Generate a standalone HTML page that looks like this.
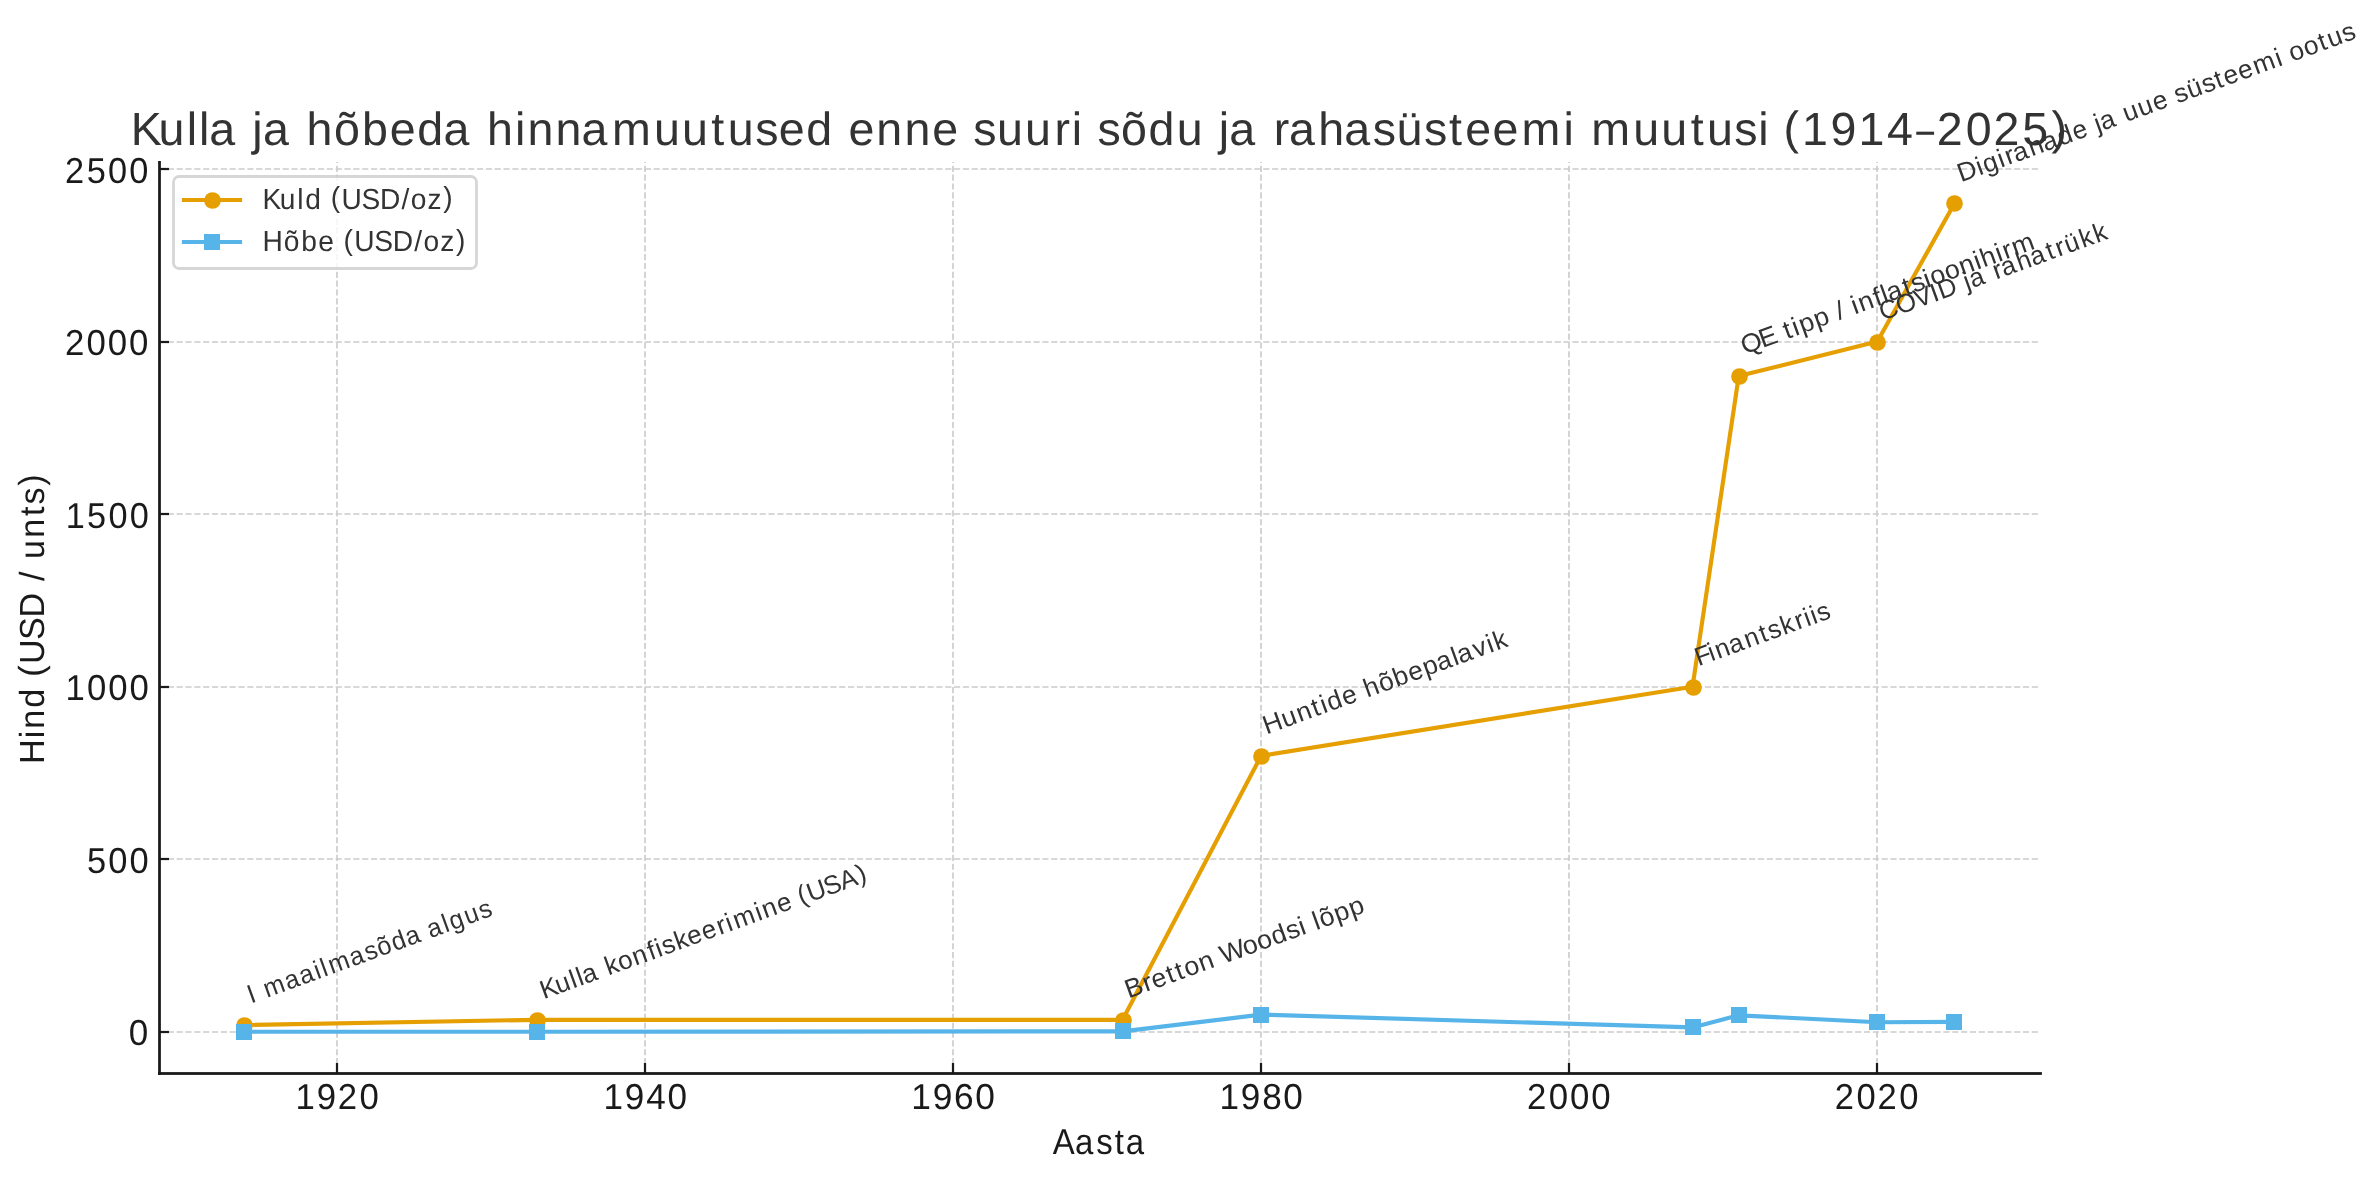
<!DOCTYPE html>
<html lang="et">
<head>
<meta charset="utf-8">
<title>Kulla ja hõbeda hinnamuutused</title>
<style>
html,body{margin:0;padding:0;background:#fff}
svg{display:block;will-change:transform}
text{font-family:"Liberation Sans",sans-serif;font-kerning:none;white-space:pre;text-rendering:geometricPrecision}
.g{stroke:#ccc;stroke-width:1.667;stroke-dasharray:6.167 2.667;fill:none}
.k{stroke:#1a1a1a;stroke-width:2.222;fill:none}
.s{stroke:#1a1a1a;stroke-width:2.778;fill:none;stroke-linecap:square}
.au{stroke:#e69f00;stroke-width:4.167;fill:none;stroke-linejoin:round;stroke-linecap:square}
.ag{stroke:#56b4e9;stroke-width:4.167;fill:none;stroke-linejoin:round;stroke-linecap:square}
.t3{fill:#333}
.t1{fill:#1a1a1a}
</style>
</head>
<body>
<svg id="chart" width="2379" height="1180" viewBox="0 0 2379 1180">
<rect id="bg" width="2379" height="1180" fill="#fff"/>
<g id="grid">
<path class="g" d="M337 1073V162.1"/>
<path class="g" d="M645 1073V162.1"/>
<path class="g" d="M953 1073V162.1"/>
<path class="g" d="M1261 1073V162.1"/>
<path class="g" d="M1569 1073V162.1"/>
<path class="g" d="M1877 1073V162.1"/>
<path class="g" d="M158.96 169H2039.9"/>
<path class="g" d="M158.96 342H2039.9"/>
<path class="g" d="M158.96 514H2039.9"/>
<path class="g" d="M158.96 687H2039.9"/>
<path class="g" d="M158.96 859H2039.9"/>
<path class="g" d="M158.96 1032H2039.9"/>
</g>
<g id="ticks">
<path class="k" d="M337 1073.5V1063"/>
<path class="k" d="M645 1073.5V1063"/>
<path class="k" d="M953 1073.5V1063"/>
<path class="k" d="M1261 1073.5V1063"/>
<path class="k" d="M1569 1073.5V1063"/>
<path class="k" d="M1877 1073.5V1063"/>
<path class="k" d="M159.5 169H169"/>
<path class="k" d="M159.5 342H169"/>
<path class="k" d="M159.5 514H169"/>
<path class="k" d="M159.5 687H169"/>
<path class="k" d="M159.5 859H169"/>
<path class="k" d="M159.5 1032H169"/>
</g>
<g id="series">
<path class="au" d="M244.46 1024.99 L537.15 1019.81 L1122.54 1019.81 L1261.18 755.75 L1692.52 686.72 L1738.74 376.06 L1877.38 341.55 L1954.41 203.48"/>
<circle cx="244.5" cy="1025.5" r="8.333" fill="#e69f00"/>
<circle cx="537.5" cy="1020.5" r="8.333" fill="#e69f00"/>
<circle cx="1123.5" cy="1020.5" r="8.333" fill="#e69f00"/>
<circle cx="1261.5" cy="756.5" r="8.333" fill="#e69f00"/>
<circle cx="1693.5" cy="687.5" r="8.333" fill="#e69f00"/>
<circle cx="1739.5" cy="376.5" r="8.333" fill="#e69f00"/>
<circle cx="1877.5" cy="342.5" r="8.333" fill="#e69f00"/>
<circle cx="1954.5" cy="203.5" r="8.333" fill="#e69f00"/>
<path class="ag" d="M244.46 1031.72 L537.15 1031.75 L1122.54 1031.37 L1261.18 1014.63 L1692.52 1027.4 L1738.74 1015.32 L1877.38 1022.23 L1954.41 1021.88"/>
<rect x="236" y="1024" width="16" height="16" fill="#56b4e9"/>
<rect x="529" y="1024" width="16" height="16" fill="#56b4e9"/>
<rect x="1115" y="1023" width="16" height="16" fill="#56b4e9"/>
<rect x="1253" y="1007" width="16" height="16" fill="#56b4e9"/>
<rect x="1685" y="1019" width="16" height="16" fill="#56b4e9"/>
<rect x="1731" y="1007" width="16" height="16" fill="#56b4e9"/>
<rect x="1869" y="1014" width="16" height="16" fill="#56b4e9"/>
<rect x="1946" y="1014" width="16" height="16" fill="#56b4e9"/>
</g>
<g id="spines">
<path class="s" d="M159.5 162.5V1073.5"/>
<rect x="158.111" y="1072.111" width="1883.778" height="2.778" fill="#1a1a1a"/>
</g>
<g id="annotations">
<text id="ann0" class="t3" font-size="26.12" transform="translate(250.95 1003.07) rotate(-20) scale(0.9644 1)" x="0 7.5 17.6 40.8 56.6 73.4 80.7 89 112.2 128.7 142.5 158.5 173.9 190 198 214.8 222.2 238.7 254.7" y="0.42">I maailmasõda algus</text>
<text id="ann1" class="t3" font-size="26.12" transform="translate(543.65 999.3) rotate(-20) scale(0.9965 1)" x="0.1 15.9 31.7 38.8 44.6 60.5 69.4 82.6 98.2 114.6 123 129.6 143.4 156.7 172.1 188.3 198.1 205.9 229.6 236.7 252.4 267.3 275.2 284.9 302.9 319.8 338.3" y="-0.1 -0.1 -0.1 -0.1 -0.1 -0.1 -0.1 -0.1 -0.1 -0.1 -0.1 -0.1 -0.1 -0.1 -0.1 -0.1 -0.1 -0.1 -0.1 -0.1 -0.1 -0.1 -1.2 -0.1 -0.1 -0.1 -1.2">Kulla konfiskeerimine (USA)</text>
<text id="ann2" class="t3" font-size="26.12" transform="translate(1129.04 997.89) rotate(-20) scale(1.0263 1)" x="-0.7 17.5 26.3 42 51.5 60.2 75.4 90.3 97.8 120.9 135.8 150.8 166 179.3 185.6 193.9 200.4 215.7 231.1" y="0.34">Bretton Woodsi lõpp</text>
<text id="ann3" class="t3" font-size="26.12" transform="translate(1267.68 733.83) rotate(-20) scale(1.0109 1)" x="-1.4 17.9 33.7 49.9 59 65.8 81.4 96.3 104.8 120.2 135.7 151.1 166.6 181 197.2 203 219.5 233.9 241" y="0.11">Huntide hõbepalavik</text>
<text id="ann4" class="t3" font-size="26.12" transform="translate(1699.02 669.5) rotate(-20) scale(0.9881 1)" x="0.6 14.7 22 36.7 53.5 69.9 78.9 92.8 107.9 117.7 124.8 131.5" y="-3.39">Finantskriis</text>
<text id="ann5" class="t3" font-size="26.12" transform="translate(1745.24 354.14) rotate(-20) scale(1.0289 1)" x="-0.9 17.7 34.2 43 52 58.8 74.3 89.1 97.3 105 113.3 120.1 136 144.1 149.7 166.3 174.8 188 194.5 209.3 224.5 239.9 246.6 262.1 269.5 279" y="0.11">QE tipp / inflatsioonihirm</text>
<text id="ann6" class="t3" font-size="26.12" transform="translate(1883.88 319.63) rotate(-20) scale(0.9915 1)" x="-1.5 16.5 36 53.5 61.3 80.5 88.9 95.1 111 120.3 129 145.6 160.4 177.5 187.4 197.2 213.5 228.2" y="0.69">COVID ja rahatrükk</text>
<text id="ann7" class="t3" font-size="26.12" transform="translate(1960.9 181.56) rotate(-20) scale(1.0117 1)" x="-0.2 19.3 26.1 41.9 49.5 57.9 74.2 88.7 104.8 120.4 135.3 143.6 149.5 165.2 173.6 189.3 204.8 219.7 227.7 241 256.4 270.3 279.2 294.4 310.5 333.9 340.3 348.4 363.5 379.4 388.5 403.8" y="0.66">Digirahade ja uue süsteemi ootus</text>
</g>
<g id="legend">
<rect id="legbox" x="173.5" y="176.5" width="303" height="92" rx="5.556" fill="#fff" fill-opacity="0.8" stroke="#ccc" stroke-opacity="0.8" stroke-width="2.778"/>
<path id="lh0" d="M181.9 200H242.1" stroke="#e69f00" stroke-width="4.167"/>
<circle id="lm0" cx="212.5" cy="200.5" r="8.333" fill="#e69f00"/>
<path id="lh1" d="M181.9 242H242.1" stroke="#56b4e9" stroke-width="4.167"/>
<rect id="lm1" x="204" y="234" width="16" height="16" fill="#56b4e9"/>
<text id="leg0" class="t3" font-size="29.03" transform="translate(261.74 211.56) scale(0.969 1)" x="0.8 18.7 36.7 44.8 62.1 71.3 82.4 102.9 122.1 144.3 153.8 171.1 187.3" y="-3 -3 -3 -3 -3 -4.2 -3 -3 -3 -3 -3 -3 -4.2">Kuld (USD/oz)</text>
<text id="leg1" class="t3" font-size="29.03" transform="translate(261.74 253.45) scale(0.9709 1)" x="0.9 22.7 40.7 58.3 75.1 84.3 95.3 115.8 135 157.2 166.6 183.9 200" y="-2 -2 -2 -2 -2 -3.2 -2 -2 -2 -2 -2 -2 -3.2">Hõbe (USD/oz)</text>
</g>
<g id="labels">
<text id="xt1920" class="t1" font-size="36.03" transform="translate(294.32 1115.89) scale(0.9649 1)" x="1.2 23.3 45.1 67.6" y="-7">1920</text>
<text id="xt1940" class="t1" font-size="36.03" transform="translate(602.48 1115.89) scale(0.9733 1)" x="1 22.9 44.9 66.7" y="-7">1940</text>
<text id="xt1960" class="t1" font-size="36.03" transform="translate(910.58 1115.89) scale(0.9808 1)" x="0.8 22.6 44.4 66" y="-7">1960</text>
<text id="xt1980" class="t1" font-size="36.03" transform="translate(1218.75 1115.89) scale(0.9747 1)" x="0.8 22.7 44.6 66.3" y="-7">1980</text>
<text id="xt2000" class="t1" font-size="36.03" transform="translate(1526.72 1115.89) scale(0.9658 1)" x="0.2 22.7 44.7 66.7" y="-7">2000</text>
<text id="xt2020" class="t1" font-size="36.03" transform="translate(1834.76 1115.89) scale(0.9588 1)" x="0.1 22.8 44.6 67.3" y="-7">2020</text>
<text id="yt0" class="t1" font-size="36.03" transform="translate(127.99 1051.89) scale(0.9726 1)" x="0.8" y="-7">0</text>
<text id="yt500" class="t1" font-size="36.03" transform="translate(85.49 879.31) scale(0.9558 1)" x="1.5 23.8 46" y="-6">500</text>
<text id="yt1000" class="t1" font-size="36.03" transform="translate(64.24 706.72) scale(0.9636 1)" x="1.4 23.7 45.7 67.8" y="-7">1000</text>
<text id="yt1500" class="t1" font-size="36.03" transform="translate(64.24 534.13) scale(0.9507 1)" x="1.5 24 46.5 68.8" y="-6">1500</text>
<text id="yt2000" class="t1" font-size="36.03" transform="translate(64.11 361.55) scale(0.9658 1)" x="0.8 23.3 45.3 67.3" y="-7">2000</text>
<text id="yt2500" class="t1" font-size="36.03" transform="translate(64.11 188.96) scale(0.9531 1)" x="0.9 23.7 46.1 68.4" y="-6">2500</text>
<text id="xlabel" class="t1" font-size="35.96" transform="translate(1052.43 1160) scale(0.9157 1)" x="0.4 24.7 47.9 68.2 80.2" y="-6">Aasta</text>
<text id="ylabel" class="t1" font-size="34.83" transform="translate(49 762.49) rotate(-90) scale(0.9803 1)" x="-1.5 24.7 34.4 55.8 76.5 87.4 100.5 124.9 147.8 173.5 185.2 195.8 207.7 229.3 251.4 263.3 282.4" y="-5 -5 -5 -5 -5 -6.4 -5 -5 -5 -5 -5 -5 -5 -5 -5 -5 -6.4">Hind (USD / unts)</text>
<text id="title" class="t3" font-size="46.44" transform="translate(131.37 145.4) scale(1.0032 1)" x="-0.7 27.1 55.2 67.5 77.7 105.8 120.6 131.2 159.3 174.5 202.1 230 257.5 284.9 311.1 339.2 354.4 382.4 394.8 422.9 448.6 479.1 520.9 548.9 578.1 594.5 621.8 645.4 672.8 700 714.9 742.6 770.6 798.3 824.8 839.1 862.9 890.9 920.2 937.4 948.6 963 986.5 1013.8 1042.1 1069.1 1083.9 1094.4 1122.6 1138.8 1153.9 1183.1 1209 1237.3 1261 1288.4 1313.4 1329.6 1356.9 1385.7 1427.5 1438.8 1455.2 1497 1525 1554.3 1570.6 1597.9 1621.8 1633 1646.9 1665.4 1693.6 1721.7 1750.1 1779.2 1799.7 1828.5 1856.2 1884.8 1914.1" y="0 0 0 0 0 0 0 0 0 0 0 0 0 0 0 0 0 0 0 0 0 0 0 0 0 0 0 0 0 0 0 0 0 0 0 0 0 0 0 0 0 0 0 0 0 0 0 0 0 0 0 0 0 0 0 0 0 0 0 0 0 0 0 0 0 0 0 0 0 0 -1.9 0 0 0 0 0 0 0 0 0 -1.9">Kulla ja hõbeda hinnamuutused enne suuri sõdu ja rahasüsteemi muutusi (1914<tspan textLength="17.8" lengthAdjust="spacingAndGlyphs">–</tspan>2025)</text>
</g>
</svg>
</body>
</html>
